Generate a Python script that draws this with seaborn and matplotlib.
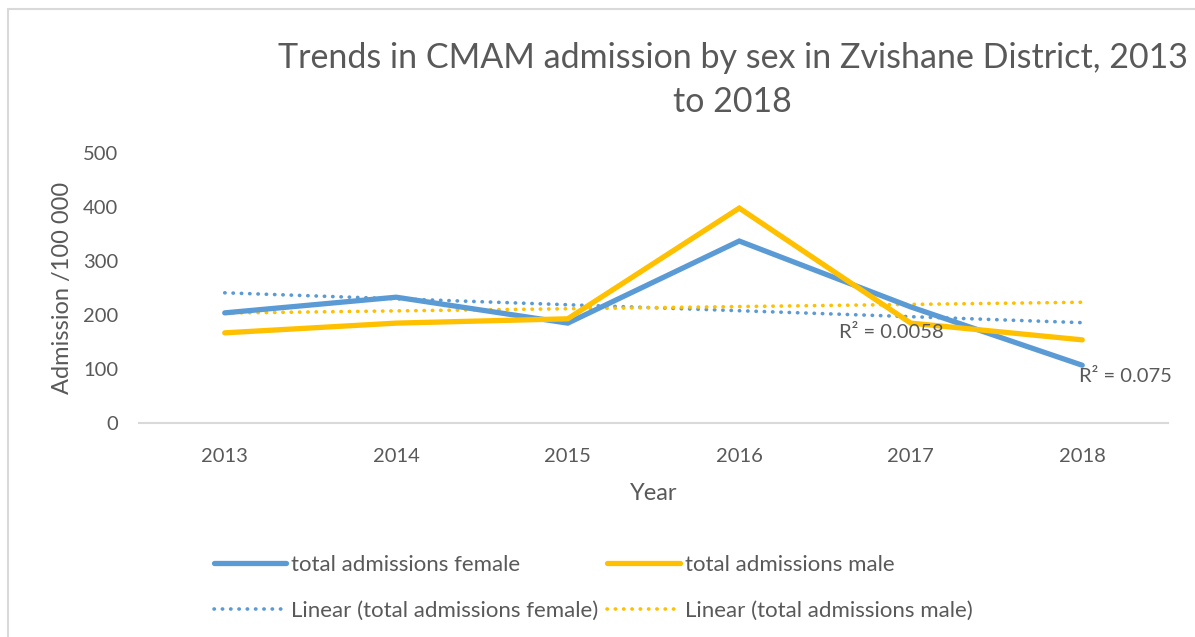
import matplotlib
matplotlib.use("Agg")
import matplotlib.pyplot as plt
from matplotlib.lines import Line2D
import numpy as np
import pandas as pd
import seaborn as sns

years = [2013, 2014, 2015, 2016, 2017, 2018]
female = [204, 233, 185, 337, 215, 107]
male = [167, 185, 193, 398, 185, 154]
series_names = ["total admissions female", "total admissions male"]
trend_names = ["Linear (total admissions female)", "Linear (total admissions male)"]
r2_labels = ["R² = 0.075", "R² = 0.0058"]
y_ticks = [0, 100, 200, 300, 400, 500]

BLUE = "#5B9BD5"
GOLD = "#FFC000"
TXT = "#595959"

sns.set_style("white")
plt.rcParams["font.family"] = ["Lato", "DejaVu Sans"]

df = pd.DataFrame({
    "Year": years * 2,
    "value": female + male,
    "series": [series_names[0]] * len(years) + [series_names[1]] * len(years),
})

fig = plt.figure(figsize=(11.95, 6.37), dpi=100)
ax = fig.add_axes([0.1163, 0.3359, 0.8611, 0.4239])

# linear trend lines (drawn underneath the series)
dots = (0, (0.1, 2.2))
for vals, col in [(female, BLUE), (male, GOLD)]:
    sns.regplot(x=np.array(years, float), y=np.array(vals, float), ax=ax, ci=None,
                scatter=False, truncate=True,
                line_kws=dict(color=col, lw=2.6, linestyle=dots, dash_capstyle="round"))

sns.lineplot(data=df, x="Year", y="value", hue="series", palette=[BLUE, GOLD],
             lw=3.8, ax=ax, legend=False, solid_capstyle="round", solid_joinstyle="miter")

ax.set_xlim(2012.5, 2018.5)
ax.set_ylim(0, 500)
ax.set_xticks(years)
ax.set_xticklabels([str(y) for y in years])
ax.set_yticks(y_ticks)
ax.tick_params(axis="both", length=0, labelsize=14.5, colors=TXT)
ax.tick_params(axis="y", pad=15)
ax.tick_params(axis="x", pad=18)
for s in ["top", "right", "left"]:
    ax.spines[s].set_visible(False)
ax.spines["bottom"].set_color("#D9D9D9")
ax.spines["bottom"].set_linewidth(1.5)
ax.set_xlabel("Year", fontsize=17, color=TXT, labelpad=13)
ax.set_ylabel("Admission /100 000", fontsize=17, color=TXT, labelpad=7)

# R² labels
ax.text(2017.98, 87, r2_labels[0], fontsize=14.5, color=TXT, ha="left", va="center")
ax.text(2016.58, 167, r2_labels[1], fontsize=14.5, color=TXT, ha="left", va="center")

fig.text(0.613, 0.874, "Trends in CMAM admission by sex in Zvishane District, 2013\nto 2018",
         ha="center", va="center", fontsize=24.5, color=TXT, linespacing=1.45)

handles = [
    Line2D([], [], color=BLUE, lw=3.8, solid_capstyle="round"),
    Line2D([], [], color=BLUE, lw=2.6, linestyle=dots, dash_capstyle="round"),
    Line2D([], [], color=GOLD, lw=3.8, solid_capstyle="round"),
    Line2D([], [], color=GOLD, lw=2.6, linestyle=dots, dash_capstyle="round"),
]
labels = [series_names[0], trend_names[0], series_names[1], trend_names[1]]
fig.legend(handles, labels, ncol=2, loc="upper left", bbox_to_anchor=(0.179, 0.1287),
           bbox_transform=fig.transFigure, frameon=False, fontsize=16,
           labelcolor=TXT, handlelength=3.25, handletextpad=0.23, columnspacing=0.4,
           labelspacing=1.18, borderaxespad=0, borderpad=0)

# outer chart frame (left and top edges visible)
fig.add_artist(Line2D([8 / 1195, 8 / 1195], [0, 1 - 9 / 637], color="#D9D9D9", lw=1.5,
                      transform=fig.transFigure))
fig.add_artist(Line2D([8 / 1195, 1], [1 - 9 / 637, 1 - 9 / 637], color="#D9D9D9", lw=1.5,
                      transform=fig.transFigure))

fig.savefig("out.png", dpi=100, facecolor="white")
